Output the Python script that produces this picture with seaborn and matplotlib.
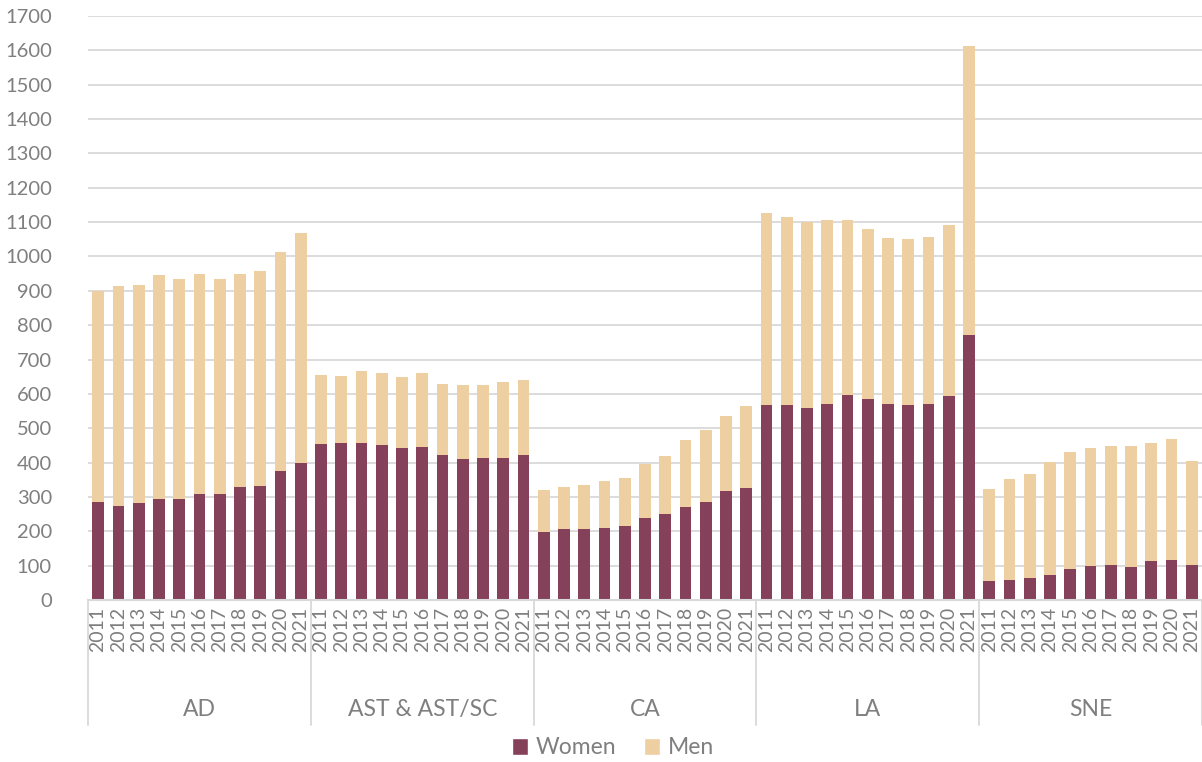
import numpy as np
import pandas as pd
import matplotlib
matplotlib.use("Agg")
import matplotlib.pyplot as plt
import matplotlib.transforms as mtransforms
from matplotlib.patches import Patch
import seaborn as sns

groups = ["AD", "AST & AST/SC", "CA", "LA", "SNE"]
years = ["2011", "2012", "2013", "2014", "2015", "2016", "2017", "2018", "2019", "2020", "2021"]

women_ad = [284, 275, 283, 294, 295, 309, 308, 329, 333, 376, 398]
men_ad = [615, 639, 634, 651, 639, 639, 627, 619, 625, 636, 669]
women_ast = [455, 456, 456, 450, 442, 444, 423, 410, 413, 413, 422]
men_ast = [199, 195, 210, 211, 207, 216, 207, 216, 212, 221, 219]
women_ca = [197, 206, 206, 211, 215, 238, 250, 270, 284, 317, 325]
men_ca = [124, 124, 130, 136, 139, 157, 168, 195, 210, 220, 241]
women_la = [569, 569, 558, 572, 598, 584, 571, 567, 572, 593, 771]
men_la = [557, 546, 542, 534, 508, 497, 484, 485, 485, 498, 843]
women_sne = [54, 58, 65, 73, 90, 99, 102, 95, 114, 115, 101]
men_sne = [268, 294, 303, 329, 341, 344, 345, 352, 344, 355, 304]

women_all = [women_ad, women_ast, women_ca, women_la, women_sne]
men_all = [men_ad, men_ast, men_ca, men_la, men_sne]

WOMEN = "#85405A"
MEN = "#EDCFA1"
GRID = "#d9d9d9"
TXT = "#7f7f7f"

rows = []
for g, ws, ms in zip(groups, women_all, men_all):
    for y, wv, mv in zip(years, ws, ms):
        rows.append({"key": f"{g}|{y}", "year": y, "group": g, "Women": wv, "Men": mv})
df = pd.DataFrame(rows)
df["Total"] = df["Women"] + df["Men"]

sns.set_theme(style="white")
plt.rcParams["font.family"] = ["Lato", "DejaVu Sans"]

fig = plt.figure(figsize=(12.02, 7.62), dpi=100)
ax = fig.add_axes([88 / 1202, (762 - 600) / 762, (1202 - 88) / 1202, 584 / 762])

order = list(df["key"])
sns.barplot(data=df, x="key", y="Total", order=order, color=MEN, width=0.58,
            saturation=1, errorbar=None, linewidth=0, ax=ax)
sns.barplot(data=df, x="key", y="Women", order=order, color=WOMEN, width=0.58,
            saturation=1, errorbar=None, linewidth=0, ax=ax)

ax.set_xlim(-0.5, len(order) - 0.5)
ax.set_ylim(0, 1700)
ax.set_yticks(np.arange(0, 1701, 100))
ax.yaxis.grid(True, color=GRID, linewidth=1.3)
ax.set_axisbelow(True)
for s in ["top", "right", "left"]:
    ax.spines[s].set_visible(False)
ax.spines["bottom"].set_color(GRID)
ax.spines["bottom"].set_linewidth(1.5)
ax.set_xlabel("")
ax.set_ylabel("")

ax.set_xticks(range(len(order)))
ax.set_xticklabels(df["year"], rotation=90)
ax.tick_params(axis="x", length=0, pad=5, labelsize=14, labelcolor=TXT)
ax.tick_params(axis="y", length=0, pad=26, labelsize=14.5, labelcolor=TXT)

trans = mtransforms.blended_transform_factory(ax.transData, ax.transAxes)
n = len(years)
for i in range(len(groups) + 1):
    b = i * n - 0.5
    ax.plot([b, b], [0, -0.214], transform=trans, clip_on=False, color=GRID, lw=1.3)
for i, g in enumerate(groups):
    c = i * n + (n - 1) / 2
    ax.text(c, -0.188, g, transform=trans, ha="center", va="center", fontsize=16.5, color=TXT)

handles = [Patch(facecolor=WOMEN, label="Women"), Patch(facecolor=MEN, label="Men")]
leg = fig.legend(handles=handles, loc="center", bbox_to_anchor=(613 / 1202, 1 - 748 / 762),
                 ncol=2, frameon=False, fontsize=16.5, handlelength=0.7, handleheight=0.7,
                 columnspacing=1.2, handletextpad=0.35)
for t in leg.get_texts():
    t.set_color(TXT)

fig.savefig("out.png", dpi=100)
